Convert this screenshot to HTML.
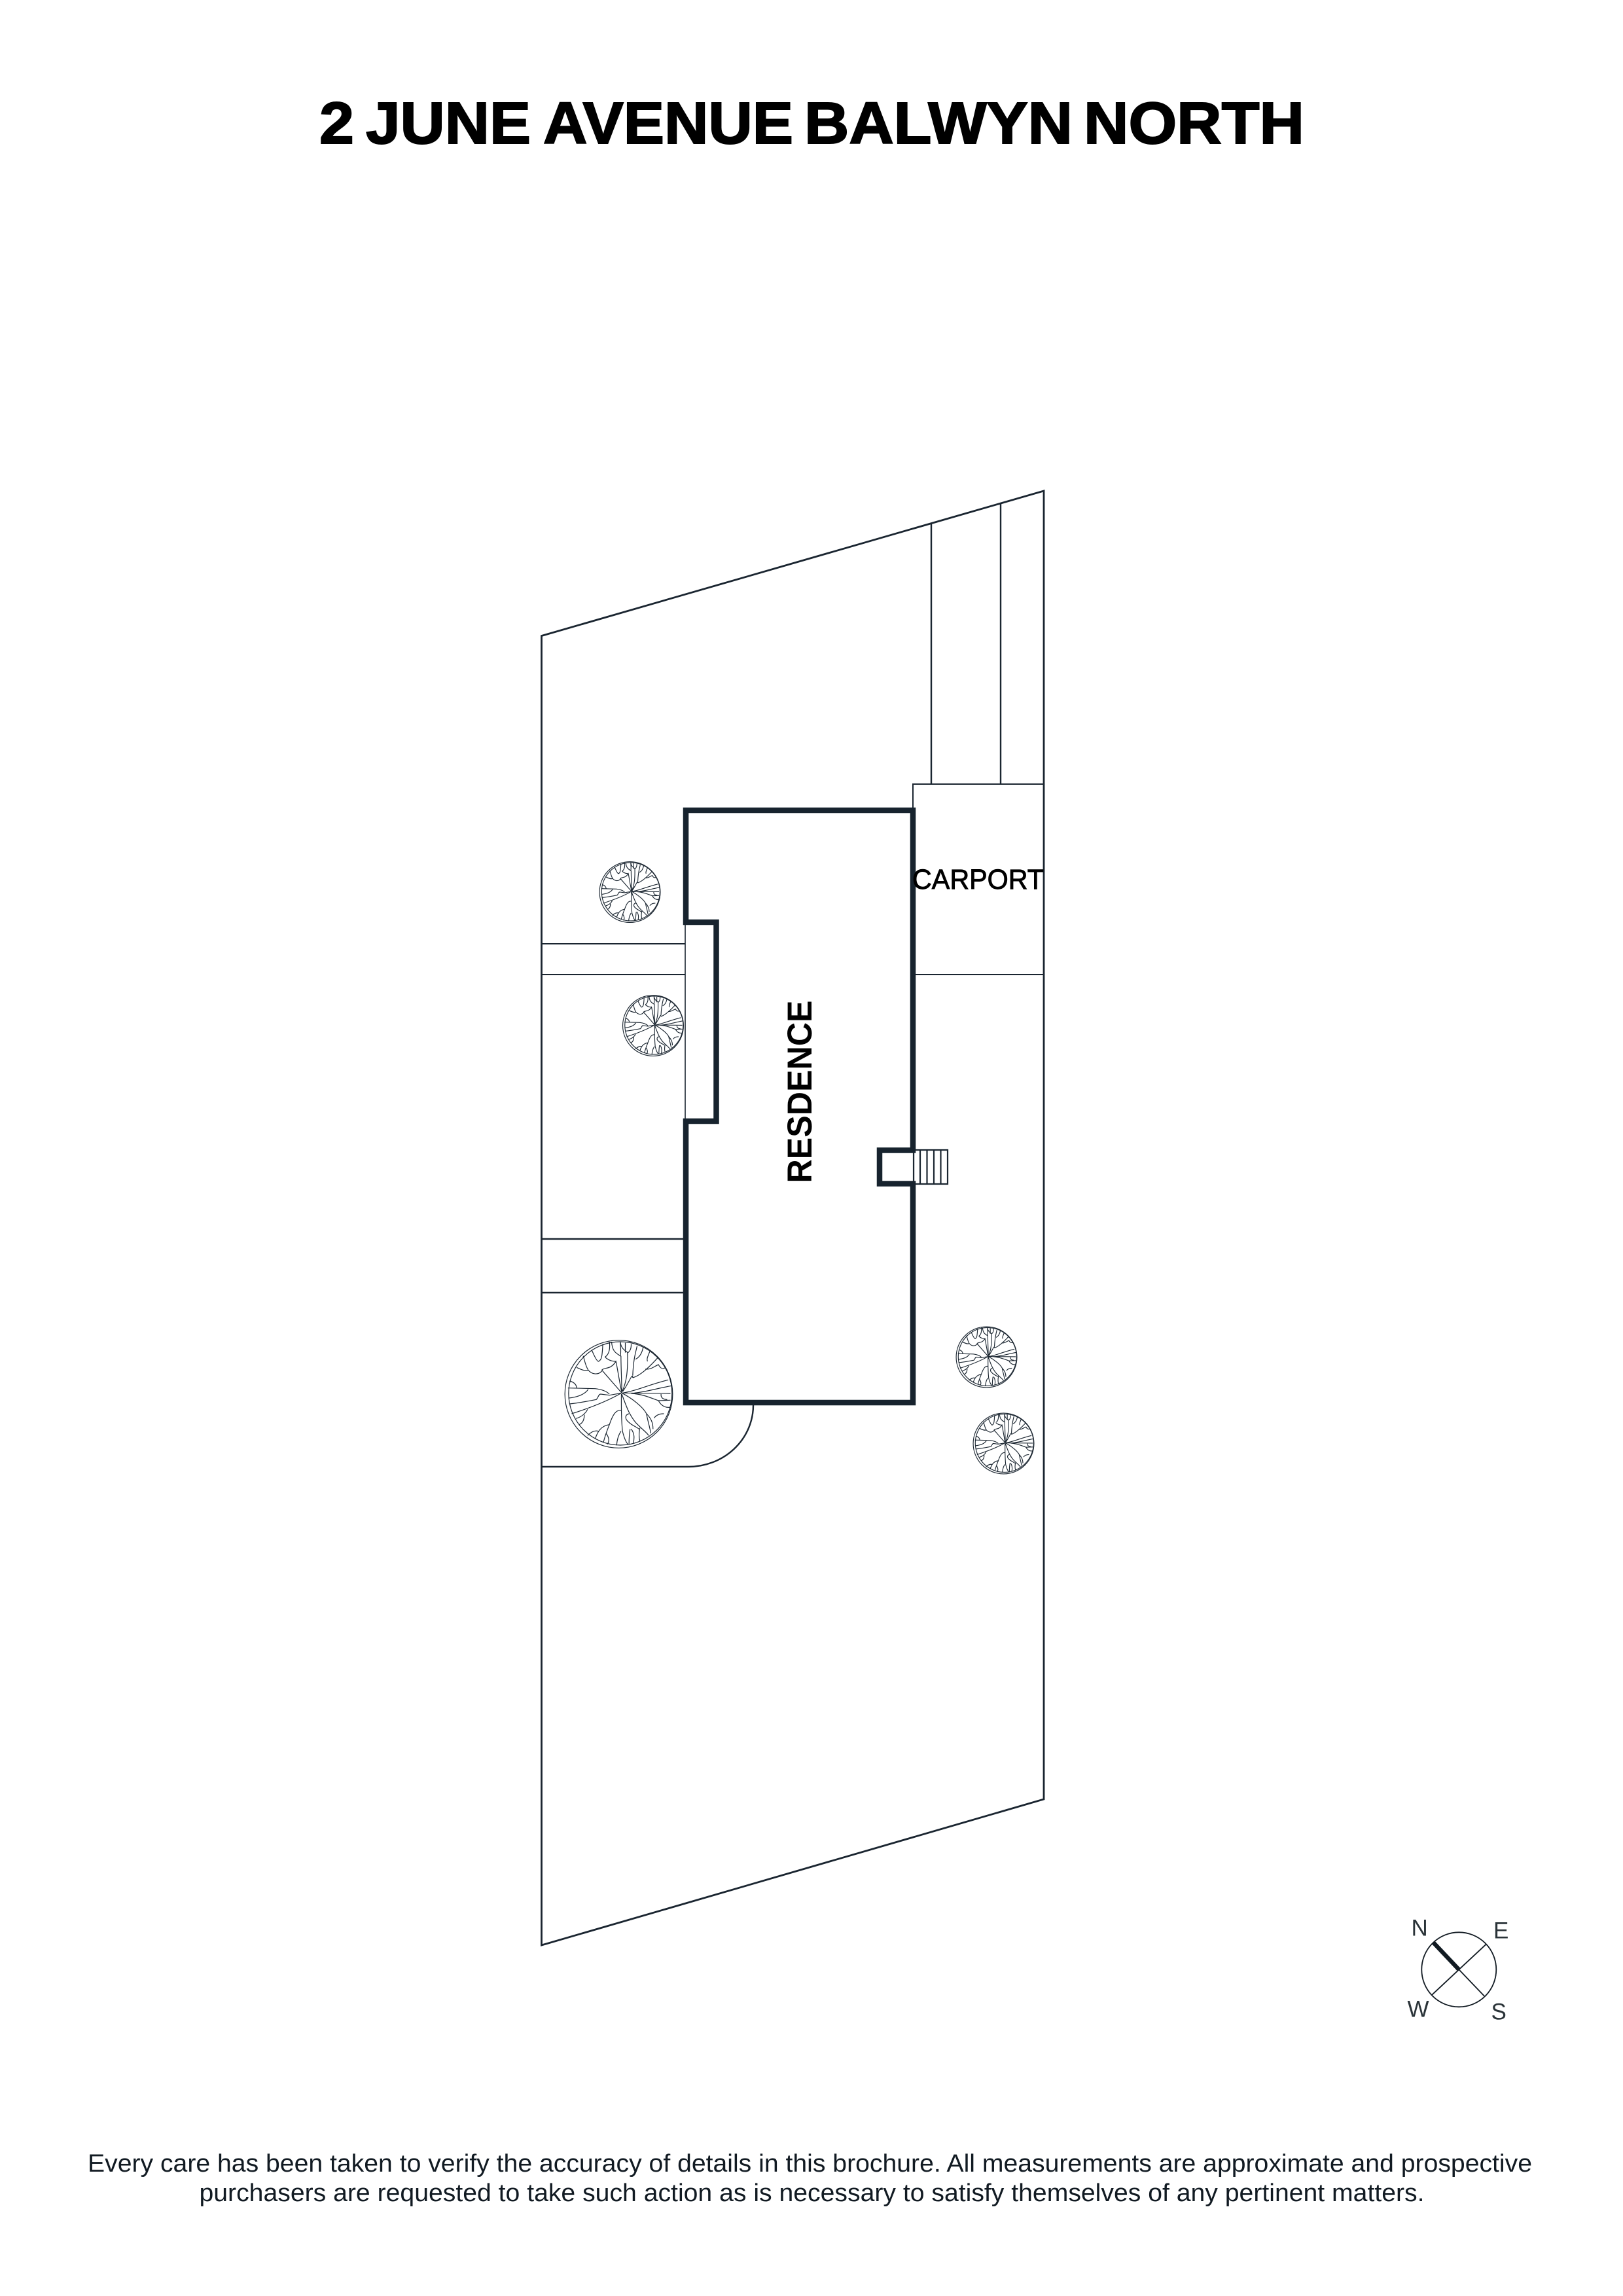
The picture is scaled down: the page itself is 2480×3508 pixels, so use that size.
<!DOCTYPE html>
<html lang="en">
<head>
<meta charset="utf-8">
<title>2 June Avenue Balwyn North</title>
<style>
html,body{margin:0;padding:0;background:#fff}
body{width:2480px;height:3508px;overflow:hidden}
svg{display:block}
text{font-family:"Liberation Sans",sans-serif}
</style>
</head>
<body>
<svg width="2480" height="3508" viewBox="0 0 2480 3508" xmlns="http://www.w3.org/2000/svg">
<defs>
<g id="tree" fill="none">
<circle cx="288" cy="300" r="247"/>
<circle cx="295" cy="297" r="237"/>
<path d="M302 295L212 192C195 215 165 210 148 190C135 170 130 140 125 125
M148 190C135 195 120 190 95 178
M302 295C285 210 280 170 275 150C250 190 225 175 210 190
M225 130C240 145 255 150 275 150
M165 100C180 135 190 150 195 150C210 145 212 125 215 70
M245 60C250 100 240 120 225 130
M302 285C300 200 298 170 298 125
M255 60C258 100 270 110 295 125C300 105 295 80 295 60
M295 60C298 90 315 100 330 110C345 100 345 80 345 70
M318 65L318 110
M305 285C325 240 330 190 328 110
M305 290C340 240 350 200 352 225
M372 80C365 110 355 140 352 215
M352 225C385 215 420 185 470 130
M400 85C395 110 385 130 365 140
M430 105C420 130 415 140 420 150
M410 185C435 190 455 170 470 165C480 185 490 185 500 180
M305 295C370 285 430 255 515 235
M360 295C410 290 460 275 530 262
M310 295L525 297
M345 297C400 300 440 320 470 330C480 350 500 365 525 360
M470 330L525 328
M482 300C480 315 490 325 510 325
M55 272L180 275C205 278 230 285 245 300
M148 278C130 305 90 315 60 318
M62 345C110 340 160 330 185 325C195 315 195 300 205 300L245 305L302 295
M300 295C240 330 150 365 72 390
M145 370C135 390 115 405 92 412
M130 395C130 420 120 435 105 440
M62 240C85 245 95 260 95 272
M300 300C300 340 298 400 305 470C315 510 325 525 330 530
M300 375C275 370 260 395 245 440C235 465 225 490 218 520
M298 470C285 490 280 510 278 535
M180 505C190 475 205 445 245 440
M145 490C160 475 175 465 195 470
M230 480C245 500 245 520 235 530
M302 300C320 350 340 410 380 445C400 465 420 480 425 490
M335 390C315 395 315 415 335 430C350 445 370 450 380 460
M340 460C335 490 335 510 335 530
M345 460C360 480 360 500 355 525
M385 455C380 480 380 500 385 515
M302 295C350 320 400 360 415 390C420 420 430 450 435 480
M415 390C435 410 445 430 445 460
M450 410C460 395 475 390 495 390"/>
</g>
</defs>

<!-- title -->
<g font-size="90" font-weight="700" fill="#000" stroke="#000" stroke-width="2" lengthAdjust="spacingAndGlyphs">
<text x="488" y="219" textLength="53" lengthAdjust="spacingAndGlyphs">2</text>
<text x="559" y="219" textLength="252" lengthAdjust="spacingAndGlyphs">JUNE</text>
<text x="830" y="219" textLength="382" lengthAdjust="spacingAndGlyphs">AVENUE</text>
<text x="1229" y="219" textLength="410" lengthAdjust="spacingAndGlyphs">BALWYN</text>
<text x="1656" y="219" textLength="337" lengthAdjust="spacingAndGlyphs">NORTH</text>
</g>

<!-- site outline -->
<g fill="none" stroke="#1a2530">
<path d="M827.5 971.5L1595 750V2749L827.5 2972Z" stroke-width="2.8"/>
<path d="M1423 799V1198M1529 769V1198" stroke-width="2.4"/>
<path d="M1395 1238V1198H1595" stroke-width="2"/>
<path d="M827.5 1442H1047M827.5 1489H1047M1399 1489H1595" stroke-width="2"/>
<path d="M827.5 1893H1044M827.5 1975H1044" stroke-width="2.4"/>
<path d="M1047 1409V1713" stroke-width="1.6"/>
<path d="M827.5 2241H1052A99 94 0 0 0 1151 2147" stroke-width="2.4"/>
<!-- stairs -->
<path d="M1396 1757H1448V1809H1396Z" stroke-width="2.2"/>
<path d="M1406 1757V1809M1416.5 1757V1809M1427 1757V1809M1437.5 1757V1809" stroke-width="2.2"/>
<!-- residence -->
<path d="M1048 1238H1395V1757.5H1344V1808.5H1395V2143H1048V1713H1094.5V1409H1048Z" stroke-width="8.5" stroke="#17232e" stroke-linejoin="miter"/>
</g>
<rect x="1391" y="1762" width="4" height="42" fill="#fff"/>
<path d="M1396 1762V1804" stroke="#1a2530" stroke-width="2.2" fill="none"/>

<!-- trees -->
<g stroke="#1a2530">
<use href="#tree" transform="translate(945.5 2130) scale(.3333) translate(-288 -300)" stroke-width="3.6"/>
<use href="#tree" transform="translate(962.5 1363) scale(.188) translate(-288 -300)" stroke-width="6"/>
<use href="#tree" transform="translate(998 1567) scale(.188) translate(-288 -300)" stroke-width="6"/>
<use href="#tree" transform="translate(1507.5 2073.5) scale(.188) translate(-288 -300)" stroke-width="6"/>
<use href="#tree" transform="translate(1533.5 2205.5) scale(.188) translate(-288 -300)" stroke-width="6"/>
</g>

<!-- labels -->
<text x="1394" y="1358" font-size="43" fill="#000" stroke="#000" stroke-width=".9" textLength="201" lengthAdjust="spacingAndGlyphs">CARPORT</text>
<text transform="translate(1240 1807.5) rotate(-90)" font-size="53" font-weight="700" fill="#000" textLength="279" lengthAdjust="spacingAndGlyphs">RESDENCE</text>

<!-- compass -->
<g fill="none" stroke="#111a22">
<circle cx="2229.3" cy="3009.3" r="57" stroke-width="1.8"/>
<path d="M2229.3 3009.3L2268.3 3050M2229.3 3009.3L2270.7 2970.7M2229.3 3009.3L2188.3 3047.7" stroke-width="1.8"/>
<path d="M2190 2967.7L2229.3 3009.3" stroke-width="6.5"/>
</g>
<g font-size="35" fill="#2a3338">
<text x="2156.5" y="2957.3">N</text>
<text x="2282" y="2961.7">E</text>
<text x="2150.5" y="3081.7">W</text>
<text x="2278.5" y="3085.7">S</text>
</g>

<!-- footer -->
<g font-size="38" fill="#111a22">
<text x="134" y="3318" textLength="2207" lengthAdjust="spacingAndGlyphs">Every care has been taken to verify the accuracy of details in this brochure. All measurements are approximate and prospective</text>
<text x="304.5" y="3363" textLength="1872" lengthAdjust="spacingAndGlyphs">purchasers are requested to take such action as is necessary to satisfy themselves of any pertinent matters.</text>
</g>
</svg>
</body>
</html>
